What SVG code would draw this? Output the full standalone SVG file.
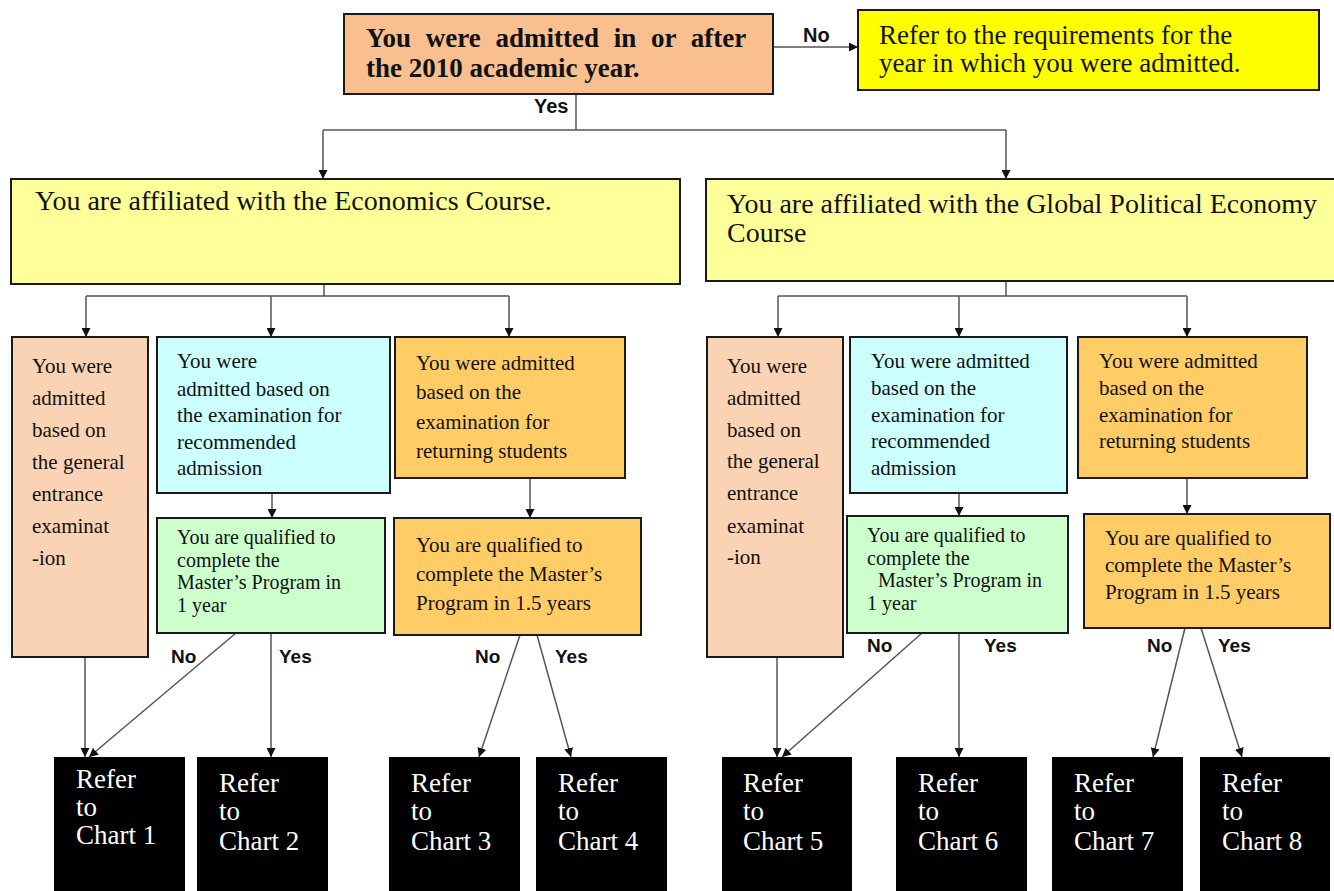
<svg xmlns="http://www.w3.org/2000/svg" width="1334" height="891" viewBox="0 0 1334 891">
<defs>
<marker id="ah" viewBox="0 0 10 10" refX="10" refY="5" markerWidth="9" markerHeight="9" markerUnits="userSpaceOnUse" orient="auto"><path d="M0,0 L10,5 L0,10 z" fill="#111"/></marker>
<style>
.box{stroke:#1a1a1a;stroke-width:2}
.t{font-family:"Liberation Serif","Times New Roman",serif;fill:#111}
.tb{font-family:"Liberation Serif","Times New Roman",serif;font-weight:bold;fill:#111}
.w{font-family:"Liberation Serif","Times New Roman",serif;fill:#fff;font-size:27px}
.lbl{font-family:"Liberation Sans",Arial,sans-serif;font-weight:bold;fill:#111}
.c{stroke:#555;stroke-width:1.5;fill:none}
.ca{stroke:#555;stroke-width:1.5;fill:none;marker-end:url(#ah)}
</style>
</defs>
<rect width="1334" height="891" fill="#fff"/>

<g id="connectors">
<path class="ca" d="M773,47 H858"/>
<path class="c" d="M576,94 V130 M323,130 H1006"/>
<path class="ca" d="M323,130 V179"/>
<path class="ca" d="M1006,130 V179"/>
<path class="c" d="M324,284 V296 M86,296 H509"/>
<path class="ca" d="M86,296 V337"/>
<path class="ca" d="M271,296 V337"/>
<path class="ca" d="M509,296 V337"/>
<path class="c" d="M1006,281 V296 M778,296 H1187"/>
<path class="ca" d="M778,296 V337"/>
<path class="ca" d="M959,296 V337"/>
<path class="ca" d="M1187,296 V337"/>
<path class="ca" d="M272,493 V518"/>
<path class="ca" d="M530,478 V518"/>
<path class="ca" d="M959,493 V516"/>
<path class="ca" d="M1187,478 V514"/>
<path class="ca" d="M85,657 V757"/>
<path class="ca" d="M236,633 L89,757"/>
<path class="ca" d="M271,633 V757"/>
<path class="ca" d="M520,635 L479,757"/>
<path class="ca" d="M537,635 L571,757"/>
<path class="ca" d="M777,657 V757"/>
<path class="ca" d="M922,633 L782,757"/>
<path class="ca" d="M959,633 V757"/>
<path class="ca" d="M1185,628 L1153,757"/>
<path class="ca" d="M1201,628 L1242,757"/>
<text class="lbl" x="803" y="42" font-size="20">No</text>
<text class="lbl" x="534" y="113" font-size="20">Yes</text>
<text class="lbl" x="171" y="663" font-size="19">No</text>
<text class="lbl" x="279" y="663" font-size="19">Yes</text>
<text class="lbl" x="475" y="663" font-size="19">No</text>
<text class="lbl" x="555" y="663" font-size="19">Yes</text>
<text class="lbl" x="867" y="652" font-size="19">No</text>
<text class="lbl" x="984" y="652" font-size="19">Yes</text>
<text class="lbl" x="1147" y="652" font-size="19">No</text>
<text class="lbl" x="1218" y="652" font-size="19">Yes</text>
</g>

<g id="n-start">
<rect class="box" x="344" y="14" width="429" height="80" fill="#F9BF8F"/>
<text class="tb" font-size="27"><tspan x="366" y="47" word-spacing="8">You were admitted in or after</tspan><tspan x="366" y="77">the 2010 academic year.</tspan></text>
</g>

<g id="n-refer-year">
<rect class="box" x="858" y="10" width="461" height="80" fill="#FFFF00"/>
<text class="t" font-size="27"><tspan x="879" y="44">Refer to the requirements for the</tspan><tspan x="879" y="72">year in which you were admitted.</tspan></text>
</g>

<g id="n-econ">
<rect class="box" x="11" y="179" width="669" height="105" fill="#FFFF99"/>
<text class="t" font-size="28" x="35" y="210">You are affiliated with the Economics Course.</text>
</g>

<g id="n-gpe">
<rect class="box" x="706" y="179" width="640" height="102" fill="#FFFF99"/>
<text class="t" font-size="28"><tspan x="727" y="213">You are affiliated with the Global Political Economy</tspan><tspan x="727" y="242">Course</tspan></text>
</g>

<g id="n-e-general">
<rect class="box" x="12" y="337" width="136" height="320" fill="#FAD3B4"/>
<text class="t" font-size="21"><tspan x="32" y="373">You were</tspan><tspan x="32" y="405">admitted</tspan><tspan x="32" y="437">based on</tspan><tspan x="32" y="469">the general</tspan><tspan x="32" y="501">entrance</tspan><tspan x="32" y="533">examinat</tspan><tspan x="32" y="565">-ion</tspan></text>
</g>

<g id="n-e-recommended">
<rect class="box" x="157" y="337" width="233" height="156" fill="#CCFFFF"/>
<text class="t" font-size="21"><tspan x="177" y="368">You were</tspan><tspan x="177" y="396">admitted based on</tspan><tspan x="177" y="422">the examination for</tspan><tspan x="177" y="449">recommended</tspan><tspan x="177" y="475">admission</tspan></text>
</g>

<g id="n-e-1year">
<rect class="box" x="157" y="518" width="228" height="115" fill="#CCFFCC"/>
<text class="t" font-size="20"><tspan x="177" y="544">You are qualified to</tspan><tspan x="177" y="566.5">complete the</tspan><tspan x="177" y="589">Master’s Program in</tspan><tspan x="177" y="611.5">1 year</tspan></text>
</g>

<g id="n-e-returning">
<rect class="box" x="395" y="337" width="230" height="141" fill="#FFCC66"/>
<text class="t" font-size="21"><tspan x="416" y="370">You were admitted</tspan><tspan x="416" y="399">based on the</tspan><tspan x="416" y="429">examination for</tspan><tspan x="416" y="458">returning students</tspan></text>
</g>

<g id="n-e-15years">
<rect class="box" x="394" y="518" width="247" height="117" fill="#FFCC66"/>
<text class="t" font-size="21"><tspan x="416" y="552">You are qualified to</tspan><tspan x="416" y="581">complete the Master’s</tspan><tspan x="416" y="610">Program in 1.5 years</tspan></text>
</g>

<g id="n-g-general">
<rect class="box" x="707" y="337" width="136" height="320" fill="#FAD3B4"/>
<text class="t" font-size="21"><tspan x="727" y="373">You were</tspan><tspan x="727" y="405">admitted</tspan><tspan x="727" y="437">based on</tspan><tspan x="727" y="468">the general</tspan><tspan x="727" y="500">entrance</tspan><tspan x="727" y="533">examinat</tspan><tspan x="727" y="564">-ion</tspan></text>
</g>

<g id="n-g-recommended">
<rect class="box" x="850" y="337" width="217" height="156" fill="#CCFFFF"/>
<text class="t" font-size="21"><tspan x="871" y="368">You were admitted</tspan><tspan x="871" y="395">based on the</tspan><tspan x="871" y="422">examination for</tspan><tspan x="871" y="448">recommended</tspan><tspan x="871" y="475">admission</tspan></text>
</g>

<g id="n-g-1year">
<rect class="box" x="847" y="516" width="221" height="117" fill="#CCFFCC"/>
<text class="t" font-size="20"><tspan x="867" y="542">You are qualified to</tspan><tspan x="867" y="564.5">complete the</tspan><tspan x="878" y="587">Master’s Program in</tspan><tspan x="867" y="609.5">1 year</tspan></text>
</g>

<g id="n-g-returning">
<rect class="box" x="1078" y="337" width="229" height="141" fill="#FFCC66"/>
<text class="t" font-size="21"><tspan x="1099" y="368">You were admitted</tspan><tspan x="1099" y="395">based on the</tspan><tspan x="1099" y="422">examination for</tspan><tspan x="1099" y="448">returning students</tspan></text>
</g>

<g id="n-g-15years">
<rect class="box" x="1084" y="514" width="246" height="114" fill="#FFCC66"/>
<text class="t" font-size="21"><tspan x="1105" y="545">You are qualified to</tspan><tspan x="1105" y="572">complete the Master’s</tspan><tspan x="1105" y="599">Program in 1.5 years</tspan></text>
</g>

<g id="n-chart1"><rect x="54" y="757" width="131" height="134" fill="#000"/><text class="w"><tspan x="76" y="788">Refer</tspan><tspan x="76" y="816">to</tspan><tspan x="76" y="844">Chart 1</tspan></text></g>
<g id="n-chart2"><rect x="197" y="757" width="131" height="134" fill="#000"/><text class="w"><tspan x="219" y="792">Refer</tspan><tspan x="219" y="820">to</tspan><tspan x="219" y="850">Chart 2</tspan></text></g>
<g id="n-chart3"><rect x="389" y="757" width="131" height="134" fill="#000"/><text class="w"><tspan x="411" y="792">Refer</tspan><tspan x="411" y="820">to</tspan><tspan x="411" y="850">Chart 3</tspan></text></g>
<g id="n-chart4"><rect x="536" y="757" width="131" height="134" fill="#000"/><text class="w"><tspan x="558" y="792">Refer</tspan><tspan x="558" y="820">to</tspan><tspan x="558" y="850">Chart 4</tspan></text></g>
<g id="n-chart5"><rect x="722" y="757" width="130" height="134" fill="#000"/><text class="w"><tspan x="743" y="792">Refer</tspan><tspan x="743" y="820">to</tspan><tspan x="743" y="850">Chart 5</tspan></text></g>
<g id="n-chart6"><rect x="896" y="757" width="131" height="134" fill="#000"/><text class="w"><tspan x="918" y="792">Refer</tspan><tspan x="918" y="820">to</tspan><tspan x="918" y="850">Chart 6</tspan></text></g>
<g id="n-chart7"><rect x="1052" y="757" width="131" height="134" fill="#000"/><text class="w"><tspan x="1074" y="792">Refer</tspan><tspan x="1074" y="820">to</tspan><tspan x="1074" y="850">Chart 7</tspan></text></g>
<g id="n-chart8"><rect x="1200" y="757" width="130" height="134" fill="#000"/><text class="w"><tspan x="1222" y="792">Refer</tspan><tspan x="1222" y="820">to</tspan><tspan x="1222" y="850">Chart 8</tspan></text></g>
</svg>
